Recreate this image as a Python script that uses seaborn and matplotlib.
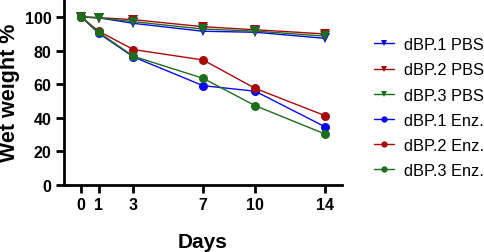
import numpy as np
import pandas as pd
import matplotlib
matplotlib.use('Agg')
import matplotlib.pyplot as plt
import seaborn as sns

days = [0, 1, 3, 7, 10, 14]

dbp1_pbs = [100, 99.5, 96.2, 91.5, 90.9, 87.3]
dbp2_pbs = [100, 99.6, 98.4, 94.2, 92.4, 89.9]
dbp3_pbs = [100, 99.5, 97.2, 92.8, 91.6, 88.6]
dbp1_enz = [100, 90.3, 76.2, 59.1, 55.8, 34.7]
dbp2_enz = [100, 91.5, 80.6, 74.4, 57.5, 41.3]
dbp3_enz = [100, 90.8, 76.6, 63.5, 47.2, 30.4]

labels = ['dBP.1 PBS', 'dBP.2 PBS', 'dBP.3 PBS',
          'dBP.1 Enz.', 'dBP.2 Enz.', 'dBP.3 Enz.']
series = [dbp1_pbs, dbp2_pbs, dbp3_pbs, dbp1_enz, dbp2_enz, dbp3_enz]

blue, red, green = '#0A0AF0', '#A80A0A', '#1C6E1C'
colors = [blue, red, green, blue, red, green]
markers = ['v', 'v', 'v', 'o', 'o', 'o']

sns.set_style('ticks')
plt.rcParams['font.family'] = ['Liberation Sans', 'DejaVu Sans']
plt.rcParams['text.color'] = 'black'
plt.rcParams['axes.labelcolor'] = 'black'
plt.rcParams['xtick.color'] = 'black'
plt.rcParams['ytick.color'] = 'black'

fig = plt.figure(figsize=(4.84, 2.53), dpi=100)
ax = fig.add_axes([0.132, 0.265, 0.575, 0.735])

for lab, vals, c, m in zip(labels, series, colors, markers):
    df = pd.DataFrame({'day': days, 'weight': vals})
    sns.lineplot(data=df, x='day', y='weight', ax=ax, color=c, marker=m,
                 markersize=6.5, markeredgewidth=0, linewidth=1.0, label=lab)

ax.set_xlim(-1, 15)
ax.set_ylim(0, 110.7)
ax.set_xticks(days)
ax.set_yticks([0, 20, 40, 60, 80, 100])
for lbl in ax.get_xticklabels() + ax.get_yticklabels():
    lbl.set_fontweight('bold')
    lbl.set_fontsize(11.5)
ax.tick_params(axis='both', width=2, length=6, color='black', labelcolor='black', pad=3)
ax.set_xlabel('Days', fontsize=15, fontweight='bold', labelpad=14)
ax.set_ylabel('Wet weight %', fontsize=15.5, fontweight='bold', labelpad=3)
for s in ['left', 'bottom']:
    ax.spines[s].set_linewidth(2)
    ax.spines[s].set_color('black')
sns.despine(ax=ax)

leg = ax.legend(loc='upper left', bbox_to_anchor=(366 / 484, 1 - 30 / 253),
                bbox_transform=fig.transFigure, frameon=False, borderpad=0,
                fontsize=11.8, handlelength=1.2, markerscale=0.7,
                labelspacing=0.62, handletextpad=0.6)
for t in leg.get_texts():
    t.set_color('black')

fig.savefig('out.png', dpi=100)
